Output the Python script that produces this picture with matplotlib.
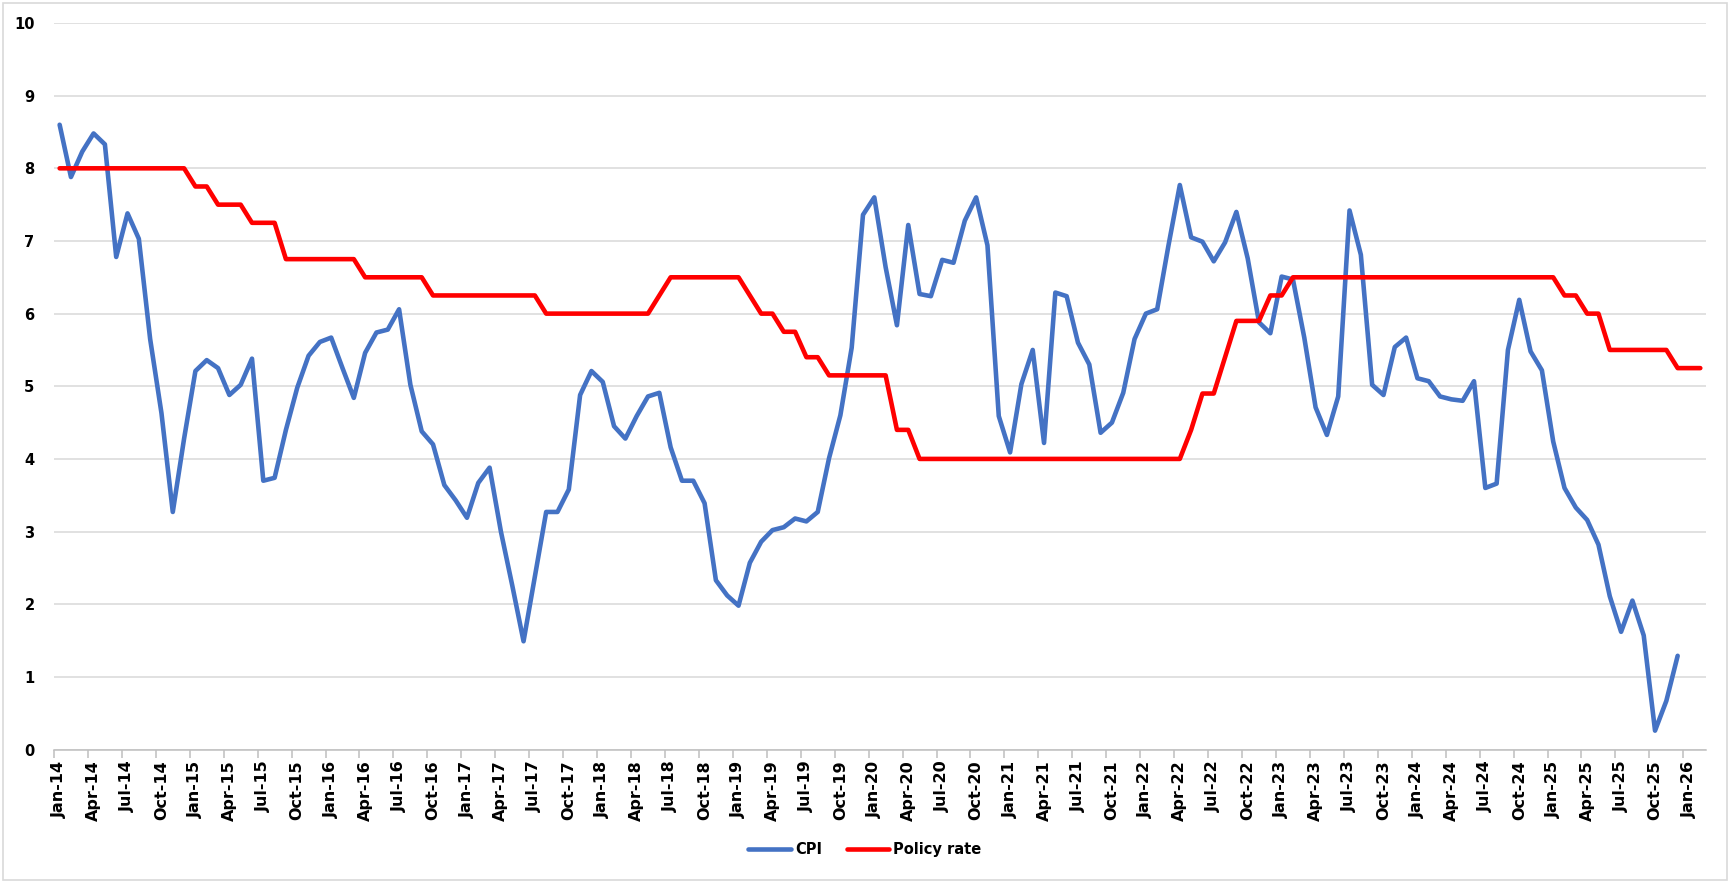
import matplotlib.pyplot as plt
import pandas as pd
from matplotlib.patches import Rectangle

# monthly categories Jan-14 .. Feb-26
months = pd.date_range("2014-01-01", "2026-02-01", freq="MS").strftime("%b-%y").tolist()

# CPI, Jan-14 .. Dec-25
cpi = [
    8.60, 7.88, 8.23, 8.48, 8.33, 6.78, 7.38, 7.03, 5.65, 4.63, 3.27, 4.28,  # 2014
    5.21, 5.36, 5.25, 4.88, 5.02, 5.38, 3.70, 3.74, 4.40, 4.98, 5.42, 5.61,  # 2015
    5.67, 5.25, 4.84, 5.46, 5.74, 5.78, 6.06, 5.02, 4.38, 4.20, 3.64, 3.43,  # 2016
    3.19, 3.67, 3.88, 3.00, 2.26, 1.49, 2.38, 3.27, 3.27, 3.58, 4.88, 5.21,  # 2017
    5.06, 4.45, 4.28, 4.59, 4.86, 4.91, 4.16, 3.70, 3.70, 3.39, 2.33, 2.12,  # 2018
    1.98, 2.57, 2.86, 3.02, 3.06, 3.18, 3.14, 3.27, 4.01, 4.60, 5.53, 7.36,  # 2019
    7.60, 6.64, 5.84, 7.22, 6.27, 6.24, 6.74, 6.70, 7.28, 7.60, 6.94, 4.59,  # 2020
    4.09, 5.03, 5.50, 4.22, 6.29, 6.24, 5.60, 5.30, 4.36, 4.50, 4.91, 5.65,  # 2021
    6.00, 6.06, 6.94, 7.77, 7.05, 6.99, 6.72, 6.98, 7.40, 6.76, 5.88, 5.73,  # 2022
    6.51, 6.47, 5.67, 4.71, 4.33, 4.86, 7.42, 6.81, 5.02, 4.88, 5.54, 5.67,  # 2023
    5.11, 5.07, 4.86, 4.82, 4.80, 5.07, 3.60, 3.66, 5.50, 6.19, 5.48, 5.22,  # 2024
    4.24, 3.60, 3.33, 3.16, 2.82, 2.11, 1.62, 2.05, 1.57, 0.26, 0.67, 1.29,  # 2025
]

# policy rate, Jan-14 .. Feb-26
policy = [
    8.00, 8.00, 8.00, 8.00, 8.00, 8.00, 8.00, 8.00, 8.00, 8.00, 8.00, 8.00,  # 2014
    7.75, 7.75, 7.50, 7.50, 7.50, 7.25, 7.25, 7.25, 6.75, 6.75, 6.75, 6.75,  # 2015
    6.75, 6.75, 6.75, 6.50, 6.50, 6.50, 6.50, 6.50, 6.50, 6.25, 6.25, 6.25,  # 2016
    6.25, 6.25, 6.25, 6.25, 6.25, 6.25, 6.25, 6.00, 6.00, 6.00, 6.00, 6.00,  # 2017
    6.00, 6.00, 6.00, 6.00, 6.00, 6.25, 6.50, 6.50, 6.50, 6.50, 6.50, 6.50,  # 2018
    6.50, 6.25, 6.00, 6.00, 5.75, 5.75, 5.40, 5.40, 5.15, 5.15, 5.15, 5.15,  # 2019
    5.15, 5.15, 4.40, 4.40, 4.00, 4.00, 4.00, 4.00, 4.00, 4.00, 4.00, 4.00,  # 2020
    4.00, 4.00, 4.00, 4.00, 4.00, 4.00, 4.00, 4.00, 4.00, 4.00, 4.00, 4.00,  # 2021
    4.00, 4.00, 4.00, 4.00, 4.40, 4.90, 4.90, 5.40, 5.90, 5.90, 5.90, 6.25,  # 2022
    6.25, 6.50, 6.50, 6.50, 6.50, 6.50, 6.50, 6.50, 6.50, 6.50, 6.50, 6.50,  # 2023
    6.50, 6.50, 6.50, 6.50, 6.50, 6.50, 6.50, 6.50, 6.50, 6.50, 6.50, 6.50,  # 2024
    6.50, 6.25, 6.25, 6.00, 6.00, 5.50, 5.50, 5.50, 5.50, 5.50, 5.50, 5.25,  # 2025
    5.25, 5.25,                                                              # 2026
]

fig = plt.figure(figsize=(17.3, 8.82), dpi=100)
ax = fig.add_axes([0.0312, 0.1502, 0.9549, 0.8237])

ax.plot(range(len(cpi)), cpi, color="#4472C4", lw=3.3, label="CPI",
        solid_joinstyle="round", solid_capstyle="round")
ax.plot(range(len(policy)), policy, color="#FF0000", lw=3.3, label="Policy rate",
        solid_joinstyle="round", solid_capstyle="round")

ax.set_xlim(-0.5, len(months) - 0.5)
ax.set_ylim(0, 10)
ax.set_yticks(range(11))
ax.grid(axis="y", color="#D9D9D9", lw=1.1)
ax.set_axisbelow(True)

for s in ["top", "right", "left"]:
    ax.spines[s].set_visible(False)
ax.spines["bottom"].set_color("#BFBFBF")
ax.spines["bottom"].set_linewidth(1.1)

# tick marks between categories, labels on the categories
ax.set_xticks([i - 0.5 for i in range(0, len(months), 3)])
ax.set_xticklabels([])
ax.set_xticks(list(range(0, len(months), 3)), minor=True)
ax.set_xticklabels(months[::3], minor=True, rotation=90, fontsize=11.5,
                   fontweight="bold", family=["Liberation Sans Narrow", "DejaVu Sans"])
ax.tick_params(axis="x", which="major", length=6, color="#BFBFBF", width=1.1)
ax.tick_params(axis="x", which="minor", length=0, pad=8)
ax.tick_params(axis="y", length=0, pad=14)
for t in ax.get_yticklabels():
    t.set_fontweight("bold")
    t.set_fontsize(10.5)

leg = fig.legend(loc="center", bbox_to_anchor=(0.5, 0.037), ncol=2, frameon=False,
                 handlelength=2.9, handletextpad=0.3, columnspacing=1.7,
                 prop={"weight": "bold", "size": 10.5})

fig.patches.append(Rectangle((0.0015, 0.002), 0.997, 0.995, transform=fig.transFigure,
                             fill=False, edgecolor="#D9D9D9", lw=1.2))

fig.savefig("out.png", dpi=100, facecolor="white")
